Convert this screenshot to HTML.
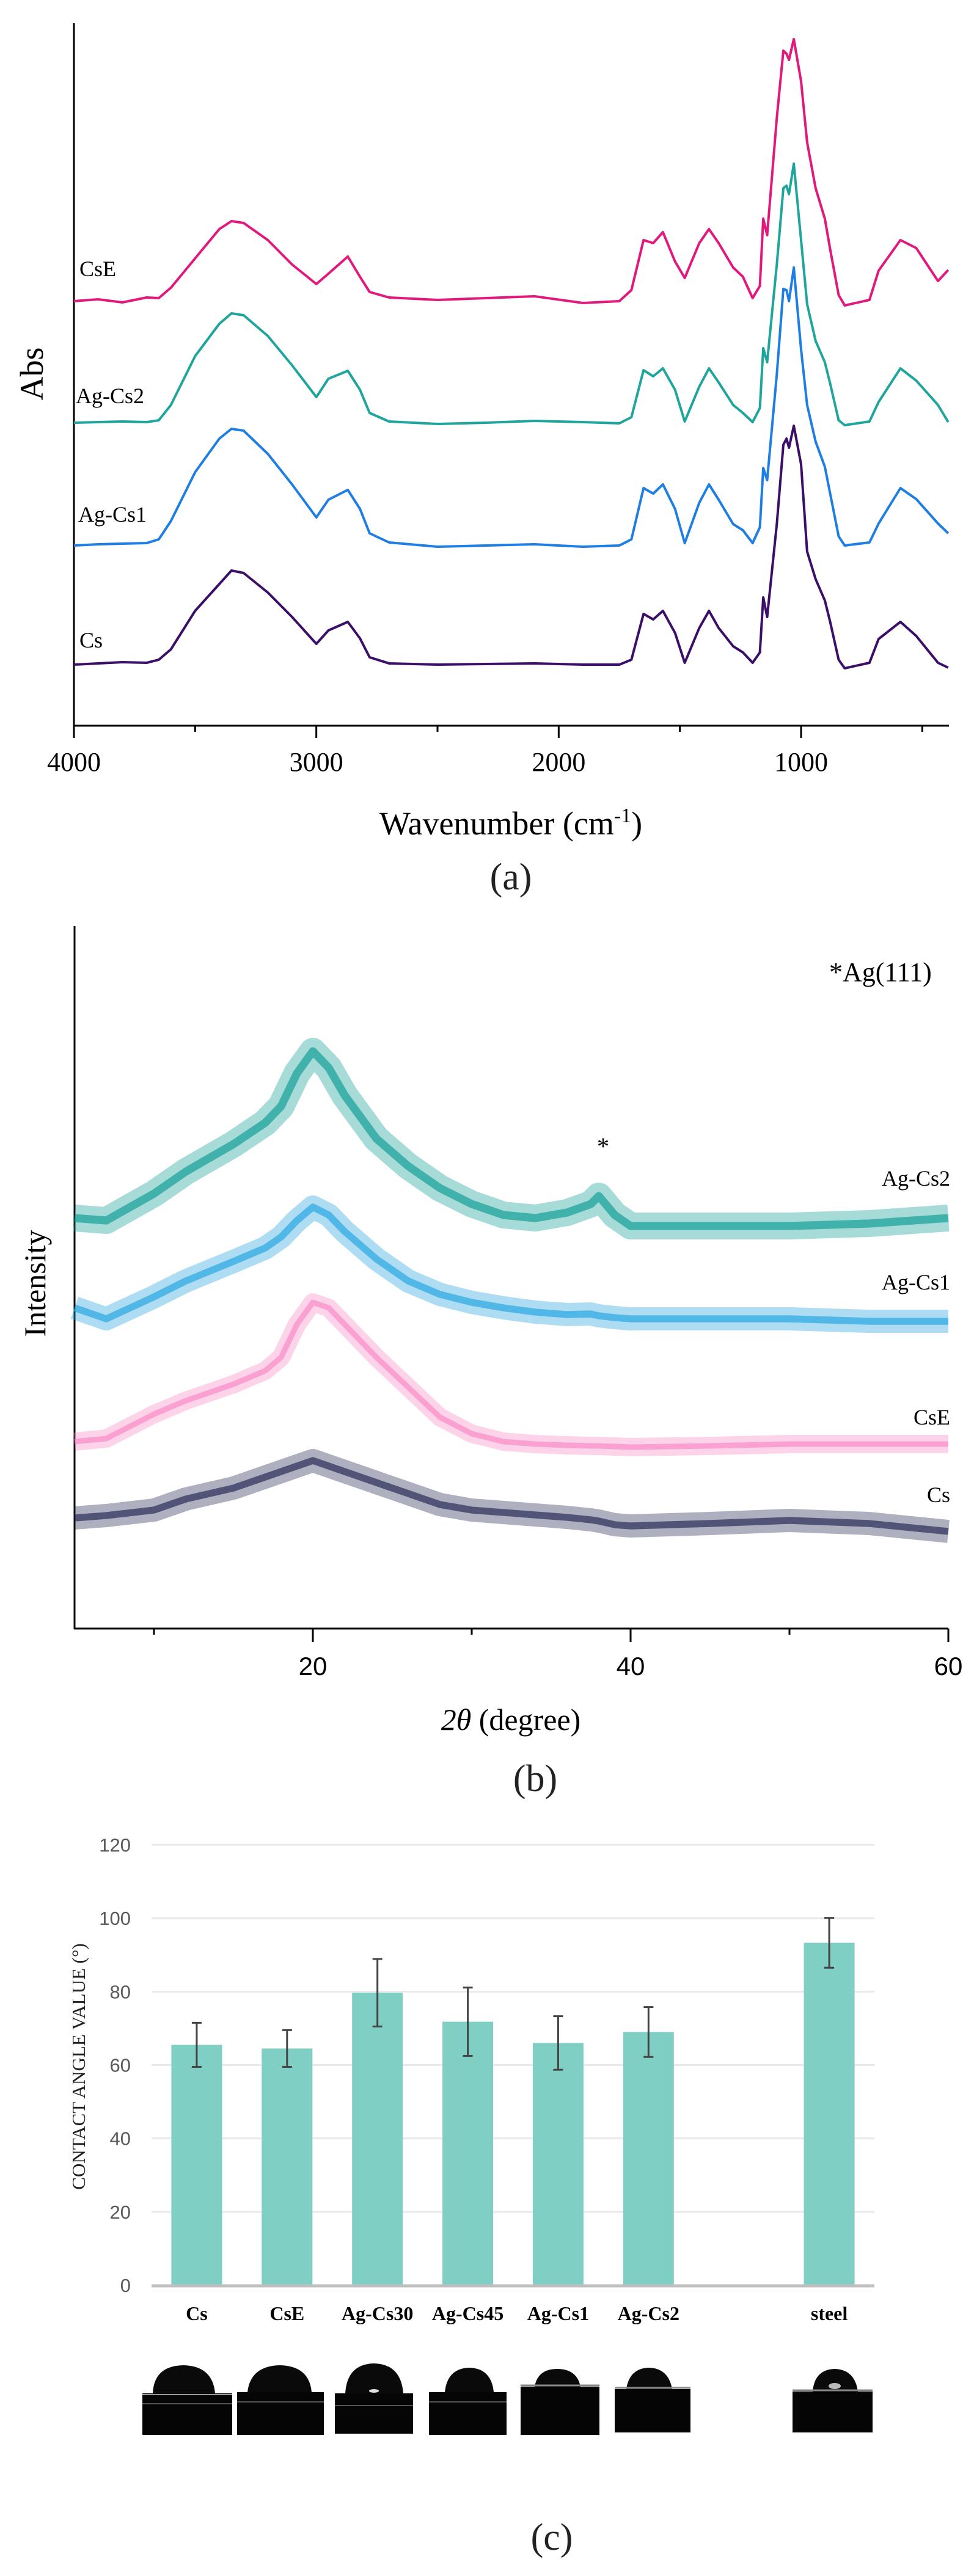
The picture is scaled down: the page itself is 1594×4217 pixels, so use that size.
<!DOCTYPE html>
<html><head><meta charset="utf-8">
<style>
html,body{margin:0;padding:0;background:#fff;}
svg{display:block;}
.serif{font-family:"Liberation Serif",serif;}
.sans{font-family:"Liberation Sans",sans-serif;}
</style></head>
<body>
<svg id="fig" width="1594" height="4217" viewBox="0 0 1594 4217" xmlns="http://www.w3.org/2000/svg">
<rect x="0" y="0" width="1594" height="4217" fill="#fff"/>
<g id="panelA">
  <line x1="121" y1="38" x2="121" y2="1189" stroke="#000" stroke-width="3"/>
  <line x1="120" y1="1188" x2="1553" y2="1188" stroke="#000" stroke-width="3"/>
  <g id="ftirTicks"></g>
  <g id="ftirLines"></g>
  <text class="serif" x="130" y="452" font-size="36">CsE</text>
  <text class="serif" x="124" y="660" font-size="36">Ag-Cs2</text>
  <text class="serif" x="128" y="854" font-size="36">Ag-Cs1</text>
  <text class="serif" x="130" y="1060" font-size="36">Cs</text>
  <text class="serif" transform="translate(70,612) rotate(-90)" text-anchor="middle" font-size="54">Abs</text>
  <text class="serif" x="836" y="1366" text-anchor="middle" font-size="54">Wavenumber (cm<tspan dy="-20" font-size="34">-1</tspan><tspan dy="20">)</tspan></text>
  <text class="serif" x="836" y="1456" text-anchor="middle" font-size="62" fill="#222">(a)</text>
</g>
<g id="panelB">
  <line x1="122" y1="1516" x2="122" y2="2667" stroke="#000" stroke-width="3"/>
  <line x1="121" y1="2666" x2="1552" y2="2666" stroke="#000" stroke-width="3"/>
  <g id="xrdTicks"></g>
  <g id="xrdLines"></g>
  <text class="serif" x="1357" y="1606" font-size="44">*Ag(111)</text>
  <text class="serif" x="987" y="1890" text-anchor="middle" font-size="40">*</text>
  <text class="serif" x="1555" y="1941" text-anchor="end" font-size="36">Ag-Cs2</text>
  <text class="serif" x="1555" y="2111" text-anchor="end" font-size="36">Ag-Cs1</text>
  <text class="serif" x="1555" y="2332" text-anchor="end" font-size="36">CsE</text>
  <text class="serif" x="1555" y="2459" text-anchor="end" font-size="36">Cs</text>
  <text class="serif" transform="translate(74,2101) rotate(-90)" text-anchor="middle" font-size="50">Intensity</text>
  <text class="serif" x="836" y="2832" text-anchor="middle" font-size="50"><tspan font-style="italic">2θ</tspan> (degree)</text>
  <text class="serif" x="876" y="2932" text-anchor="middle" font-size="62" fill="#222">(b)</text>
</g>
<g id="panelC">
  <g id="barGrid"></g>
  <g id="bars"></g>
  <text class="serif" transform="translate(139,3383) rotate(-90)" text-anchor="middle" font-size="31" fill="#222">CONTACT ANGLE VALUE (°)</text>
  <g id="drops">
    <g><rect x="233" y="3918" width="147" height="68" fill="#050505"/><path d="M250 3918 Q252 3873 300 3872 Q348 3873 352 3918 Z" fill="#0a0a0a"/><line x1="233" y1="3920" x2="380" y2="3920" stroke="#9a9a9a" stroke-width="2"/><line x1="233" y1="3935" x2="380" y2="3935" stroke="#555" stroke-width="2"/></g>
    <g><rect x="388" y="3916" width="142" height="70" fill="#050505"/><path d="M405 3916 Q410 3873 458 3872 Q506 3873 510 3916 Z" fill="#0a0a0a"/><line x1="388" y1="3932" x2="530" y2="3932" stroke="#555" stroke-width="2"/></g>
    <g><rect x="548" y="3918" width="128" height="66" fill="#050505"/><path d="M565 3918 Q568 3870 612 3869 Q656 3870 660 3918 Z" fill="#0a0a0a"/><ellipse cx="612" cy="3914" rx="8" ry="3" fill="#ddd"/><line x1="548" y1="3938" x2="676" y2="3938" stroke="#555" stroke-width="2"/></g>
    <g><rect x="702" y="3916" width="127" height="70" fill="#050505"/><path d="M728 3916 Q732 3877 768 3876 Q804 3877 808 3916 Z" fill="#0a0a0a"/><line x1="702" y1="3932" x2="829" y2="3932" stroke="#555" stroke-width="2"/></g>
    <g><rect x="852" y="3907" width="129" height="79" fill="#050505"/><path d="M875 3907 Q880 3878 912 3878 Q944 3878 950 3907 Z" fill="#0a0a0a"/><line x1="852" y1="3905" x2="981" y2="3905" stroke="#888" stroke-width="3"/></g>
    <g><rect x="1006" y="3911" width="124" height="71" fill="#050505"/><path d="M1025 3911 Q1030 3877 1062 3876 Q1094 3877 1100 3911 Z" fill="#0a0a0a"/><line x1="1006" y1="3909" x2="1130" y2="3909" stroke="#888" stroke-width="3"/></g>
    <g><rect x="1297" y="3915" width="131" height="67" fill="#050505"/><path d="M1330 3915 Q1333 3879 1366 3878 Q1399 3879 1404 3915 Z" fill="#0a0a0a"/><ellipse cx="1366" cy="3906" rx="10" ry="5" fill="#bbb"/><line x1="1297" y1="3913" x2="1428" y2="3913" stroke="#888" stroke-width="3"/></g>
  </g>
  <text class="serif" x="903" y="4174" text-anchor="middle" font-size="62" fill="#222">(c)</text>
</g>
</svg>
<script>
const ftirWavenumbers = [4000,3900,3800,3700,3650,3600,3500,3400,3350,3300,3200,3100,3000,2950,2870,2820,2780,2700,2500,2300,2100,1900,1750,1700,1650,1610,1570,1520,1480,1420,1380,1340,1280,1240,1200,1170,1156,1140,1100,1073,1060,1050,1030,1000,975,940,902,880,845,820,718,680,590,525,435,393];
const ftirCs = [1.00,1.02,1.04,1.03,1.08,1.25,1.88,2.32,2.54,2.50,2.18,1.78,1.34,1.56,1.70,1.43,1.12,1.02,1.00,1.01,1.02,1.00,1.00,1.08,1.83,1.74,1.88,1.52,1.03,1.60,1.88,1.60,1.30,1.20,1.03,1.20,2.10,1.78,3.30,4.60,4.70,4.55,4.91,4.28,2.85,2.40,2.05,1.70,1.08,0.94,1.03,1.42,1.70,1.47,1.03,0.95];
const ftirAgCs1 = [2.95,2.97,2.98,2.99,3.05,3.35,4.15,4.70,4.86,4.83,4.45,3.95,3.41,3.70,3.86,3.55,3.15,3.00,2.93,2.95,2.97,2.93,2.95,3.05,3.89,3.80,3.95,3.55,2.99,3.65,3.95,3.70,3.30,3.20,2.99,3.25,4.22,4.02,5.75,7.15,7.13,6.95,7.50,6.16,5.25,4.65,4.24,3.80,3.10,2.95,3.00,3.31,3.89,3.71,3.31,3.15];
const ftirAgCs2 = [4.96,4.97,4.98,4.97,5.00,5.25,6.05,6.58,6.75,6.72,6.38,5.90,5.38,5.68,5.81,5.50,5.12,4.98,4.94,4.96,4.99,4.97,4.95,5.05,5.82,5.72,5.85,5.50,4.98,5.55,5.85,5.62,5.25,5.12,4.97,5.20,6.18,5.95,7.55,8.80,8.84,8.70,9.20,7.95,6.90,6.30,5.95,5.60,5.00,4.92,4.98,5.30,5.85,5.65,5.25,4.97];
const ftirCsE = [6.95,6.98,6.93,7.01,7.00,7.17,7.65,8.13,8.26,8.23,7.95,7.55,7.23,7.40,7.68,7.35,7.10,7.01,6.97,7.00,7.03,6.92,6.95,7.13,7.95,7.90,8.08,7.60,7.33,7.90,8.13,7.90,7.50,7.35,7.00,7.20,8.30,8.03,9.95,11.05,11.00,10.90,11.24,10.55,9.55,8.80,8.30,7.80,7.05,6.88,6.97,7.45,7.95,7.82,7.28,7.46];
const ftirTickValues = [4000,3000,2000,1000];
const ftirTickLabels = ["4000","3000","2000","1000"];
const ftirMinorTicks = [3500,2500,1500,500];

const xrdTwoTheta = [5,7,10,12,15,17,18,19,20,21,22,24,26,28,30,32,34,36,37.5,38,39,40,45,50,55,60];
const xrdAgCs2 = [672,668,712,748,793,828,855,909,945,918,873,802,757,721,695,677,672,681,695,708,677,659,659,659,663,672];
const xrdAgCs1 = [525,507,543,569,601,623,641,668,690,677,650,605,569,547,534,525,518,514,515,512,509,507,507,507,503,503];
const xrdCsE = [306,311,351,373,400,422,444,498,534,525,498,444,395,346,319,306,302,300,299,299,298,297,299,302,302,302];
const xrdCs = [181,185,194,212,230,248,257,266,275,266,257,239,221,203,194,190,186,182,178,176,170,168,172,177,172,159];
const xrdTickValues = [20,40,60];
const xrdTickLabels = ["20","40","60"];
const xrdMinorTicks = [10,30,50];

const caCategories = ["Cs","CsE","Ag-Cs30","Ag-Cs45","Ag-Cs1","Ag-Cs2","","steel"];
const caValues = [65.5,64.5,79.7,71.8,66.0,69.0,null,93.3];
const caErrors = [6.0,5.0,9.2,9.3,7.3,6.8,null,6.8];
const caTickValues = [0,20,40,60,80,100,120];
const caTickLabels = ["0","20","40","60","80","100","120"];

const NS = "http://www.w3.org/2000/svg";
function mk(tag, attrs, parent){
  const e = document.createElementNS(NS, tag);
  for (const k in attrs) e.setAttribute(k, attrs[k]);
  parent.appendChild(e);
  return e;
}

const fx = w => 121 + (4000 - w) * (1190 / 3000);
const fy = a => 1188 - a * 100;
const ftirTicks = document.getElementById('ftirTicks');
ftirTickValues.forEach((v,i)=>{
  const t = mk('line',{x1:fx(v),y1:1188,x2:fx(v),y2:1208,stroke:'#000','stroke-width':3},ftirTicks);
  
  
  const l = mk('text',{x:fx(v),y:1262,'text-anchor':'middle','font-size':44,'class':'serif'},ftirTicks);
  l.textContent = ftirTickLabels[i];
  
  
});
ftirMinorTicks.forEach(v=>{
  const t = mk('line',{x1:fx(v),y1:1188,x2:fx(v),y2:1198,stroke:'#000','stroke-width':3},ftirTicks);
  
  
});
const ftirSeries = [[ftirCs,'#3b0f68','ftir-line-cs'],[ftirAgCs1,'#1f7ee2','ftir-line-ag-cs1'],[ftirAgCs2,'#20a59c','ftir-line-ag-cs2'],[ftirCsE,'#e2197c','ftir-line-cse']];
const ftirLines = document.getElementById('ftirLines');
ftirSeries.forEach(s=>{
  const d = s[0].map((a,i)=>(i?'L':'M')+fx(ftirWavenumbers[i]).toFixed(1)+' '+fy(a).toFixed(1)).join(' ');
  const p = mk('path',{d:d,fill:'none',stroke:s[1],'stroke-width':4,'stroke-linejoin':'round'},ftirLines);
  
  
});

const xx = t => 122 + (t - 5) * 26;
const xy = v => 2666 - v;
const xrdTicks = document.getElementById('xrdTicks');
xrdTickValues.forEach((v,i)=>{
  const t = mk('line',{x1:xx(v),y1:2666,x2:xx(v),y2:2688,stroke:'#000','stroke-width':3},xrdTicks);
  
  
  const l = mk('text',{x:xx(v),y:2742,'text-anchor':'middle','font-size':42,'class':'sans'},xrdTicks);
  l.textContent = xrdTickLabels[i];
  
  
});
xrdMinorTicks.forEach(v=>{
  const t = mk('line',{x1:xx(v),y1:2666,x2:xx(v),y2:2676,stroke:'#000','stroke-width':3},xrdTicks);
  
  
});
const xrdSeries = [[xrdAgCs2,'#16a099',44,'xrd-line-ag-cs2'],[xrdAgCs1,'#2aa6e0',38,'xrd-line-ag-cs1'],[xrdCsE,'#f98cc8',30,'xrd-line-cse'],[xrdCs,'#2a2d57',38,'xrd-line-cs']];
const xrdLines = document.getElementById('xrdLines');
xrdSeries.forEach(s=>{
  const d = s[0].map((v,i)=>(i?'L':'M')+xx(xrdTwoTheta[i]).toFixed(1)+' '+xy(v).toFixed(1)).join(' ');
  const g = mk('g',{},xrdLines);
  
  
  mk('path',{d:d,fill:'none',stroke:s[1],'stroke-width':s[2],'stroke-opacity':0.38,'stroke-linejoin':'round'},g);
  mk('path',{d:d,fill:'none',stroke:s[1],'stroke-width':s[2]*0.3,'stroke-opacity':0.7,'stroke-linejoin':'round'},g);
});

const cy = v => 3741 - v * (721 / 120);
const band = (1431 - 248) / caCategories.length;
const cx = i => 248 + band * (i + 0.5);
const grid = document.getElementById('barGrid');
caTickValues.forEach((v,i)=>{
  if (v > 0) {
    const g = mk('line',{x1:248,y1:cy(v),x2:1431,y2:cy(v),stroke:'#e9e9e9','stroke-width':3},grid);
    
    
  }
  const l = mk('text',{x:214,y:cy(v)+11,'text-anchor':'end','font-size':31,fill:'#595959','class':'sans'},grid);
  l.textContent = caTickLabels[i];
  
  
});
const bars = document.getElementById('bars');
caCategories.forEach((c,i)=>{
  const v = caValues[i];
  if (v !== null) {
    const r = mk('rect',{x:cx(i)-41.5,y:cy(v),width:83,height:cy(0)-cy(v),fill:'#80cfc4'},bars);
    
    
    const e = caErrors[i];
    const eb = mk('path',{d:'M'+cx(i)+' '+cy(v+e)+' L'+cx(i)+' '+cy(v-e)+' M'+(cx(i)-8)+' '+cy(v+e)+' L'+(cx(i)+8)+' '+cy(v+e)+' M'+(cx(i)-8)+' '+cy(v-e)+' L'+(cx(i)+8)+' '+cy(v-e),stroke:'#444','stroke-width':3,fill:'none'},bars);
    
    
    const l = mk('text',{x:cx(i),y:3798,'text-anchor':'middle','font-size':32,'font-weight':'bold','class':'serif'},bars);
    l.textContent = c;
    
    
  }
});
const base = mk('line',{x1:248,y1:3742,x2:1431,y2:3742,stroke:'#bfbfbf','stroke-width':5},bars);


</script>
</body></html>
